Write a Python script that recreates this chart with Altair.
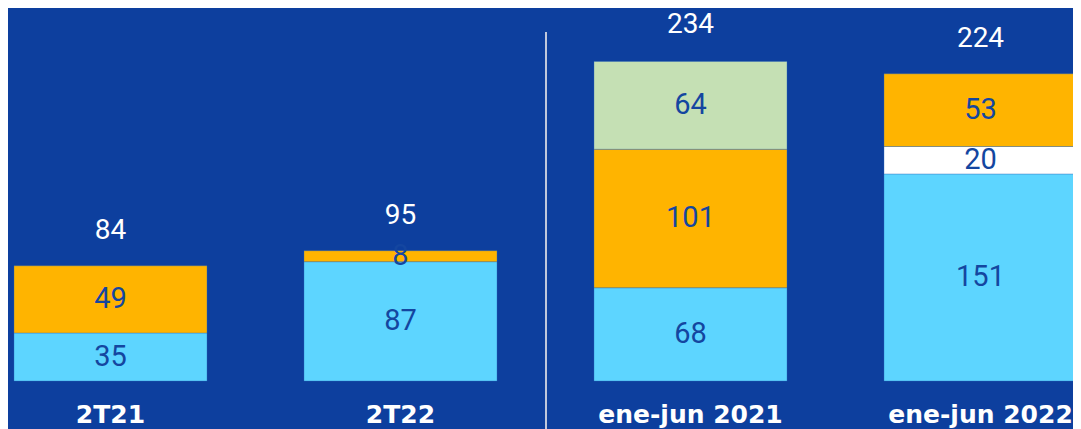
import altair as alt
import pandas as pd

categories = ["2T21", "2T22", "ene-jun 2021", "ene-jun 2022"]
series = ["A", "B", "C", "D"]
series_colors = ["#5dd5ff", "#ffffff", "#ffb400", "#c5e0b4"]

val_a = [35, 87, 68, 151]     # light blue (bottom)
val_b = [0, 0, 0, 20]         # white
val_c = [49, 8, 101, 53]      # orange
val_d = [0, 0, 64, 0]         # green (top)
totals = [84, 95, 234, 224]

rows = []
for i, c in enumerate(categories):
    for s, vals in zip(series, [val_a, val_b, val_c, val_d]):
        if vals[i] > 0:
            rows.append({"cat": c, "series": s, "order": series.index(s), "value": vals[i]})
df = pd.DataFrame(rows)
df_tot = pd.DataFrame({"cat": categories, "total": totals})

BG = "#0d3f9e"
LABEL = "#1446a0"

xscale = alt.Scale(domain=categories, range=[6, 1069], paddingInner=0.3345, paddingOuter=0)
yscale = alt.Scale(domain=[0, 272])

x_enc = alt.X("cat:N", sort=categories, scale=xscale,
              axis=alt.Axis(title=None, domain=False, ticks=False, labelAngle=0, labelLimit=0,
                            labelColor="white", labelFont="DejaVu Sans", labelFontWeight="bold",
                            labelFontSize=25, labelPadding=21, grid=False))

bars = alt.Chart(df).mark_bar(stroke="#2f6db8", strokeWidth=0.6, strokeOpacity=0.6).encode(
    x=x_enc,
    y=alt.Y("value:Q", stack="zero", scale=yscale, axis=None),
    color=alt.Color("series:N", scale=alt.Scale(domain=series, range=series_colors), legend=None),
    order=alt.Order("order:Q", sort="ascending"),
)

seg_labels = alt.Chart(df).transform_stack(
    stack="value", groupby=["cat"], as_=["y0", "y1"], sort=[alt.SortField("order", order="ascending")]
).transform_calculate(mid="(datum.y0 + datum.y1) / 2").mark_text(
    font="Roboto", fontSize=29, color=LABEL, baseline="middle", align="center"
).encode(
    x=alt.X("cat:N", sort=categories, scale=xscale),
    y=alt.Y("mid:Q", scale=yscale),
    text=alt.Text("value:Q"),
)

tot_labels = alt.Chart(df_tot).mark_text(
    font="Roboto", fontSize=28, color="white", baseline="middle", align="center", dy=-35
).encode(
    x=alt.X("cat:N", sort=categories, scale=xscale),
    y=alt.Y("total:Q", scale=yscale),
    text=alt.Text("total:Q"),
)

divider = alt.Chart(df_tot).mark_rule(color="#c0c8dc", strokeWidth=2).encode(
    x=alt.value(538), y=alt.value(24), y2=alt.value(421)
)

chart = alt.layer(bars, seg_labels, tot_labels, divider).properties(
    width=1065, height=373,
    autosize=alt.AutoSizeParams(type="none"),
    padding={"left": 0, "top": 0, "right": 0, "bottom": 48},
    background=BG,
).configure_view(stroke=None)

chart.save("out.html", embed_options={"renderer": "svg", "actions": False})
